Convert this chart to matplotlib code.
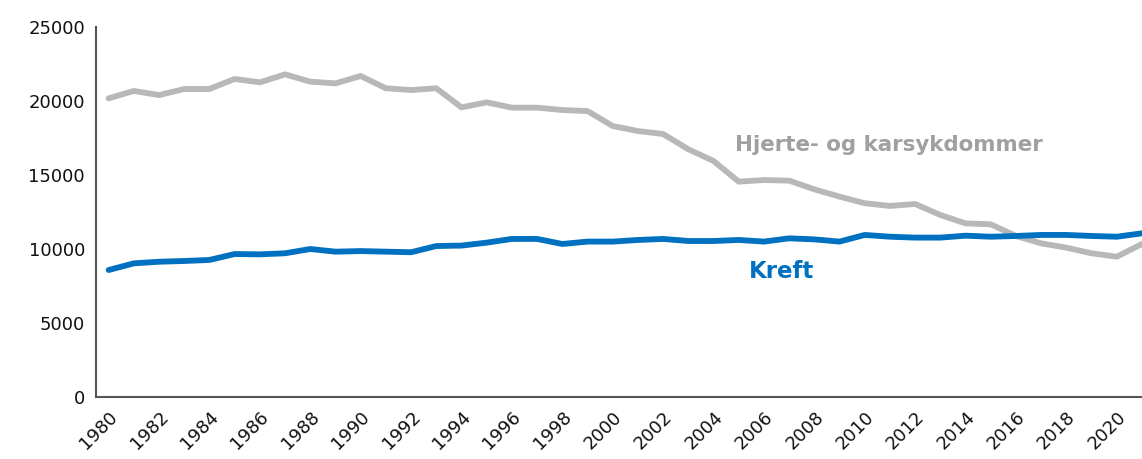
import matplotlib.pyplot as plt

years = list(range(1980, 2022))
hjerte = [20180, 20680, 20400, 20810, 20810, 21490, 21260, 21800, 21310, 21190,
          21690, 20860, 20740, 20860, 19570, 19910, 19550, 19550, 19390, 19320,
          18310, 17970, 17770, 16740, 15950, 14550, 14660, 14620, 14030, 13540,
          13090, 12910, 13040, 12300, 11730, 11670, 10880, 10380, 10090, 9710,
          9480, 10340]
kreft = [8580, 9030, 9140, 9190, 9260, 9660, 9640, 9710, 10000, 9820,
         9860, 9820, 9780, 10200, 10230, 10430, 10680, 10680, 10340, 10500,
         10500, 10610, 10680, 10540, 10540, 10610, 10500, 10720, 10650, 10500,
         10950, 10830, 10770, 10770, 10900, 10830, 10880, 10950, 10950, 10880,
         10830, 11060]

grey = '#b7b8ba'
blue = '#0070c0'

fig = plt.figure(figsize=(11.42, 4.59), dpi=100)
ax = fig.add_axes([96 / 1142, 1 - 397 / 459, 1 - 96 / 1142, (397 - 27) / 459])
ax.plot(years, hjerte, color=grey, lw=4.2, solid_capstyle='round')
ax.plot(years, kreft, color=blue, lw=4.2, solid_capstyle='round')

ax.set_xlim(1979.5, 2021)
ax.set_ylim(0, 25000)
ax.set_yticks(range(0, 25001, 5000))
ax.set_xticks(range(1980, 2021, 2))
ax.tick_params(length=0, labelsize=13, colors='#111111', pad=8)
plt.setp(ax.get_xticklabels(), rotation=45, ha='right', rotation_mode='anchor')
for s in ['top', 'right']:
    ax.spines[s].set_visible(False)
for s in ['left', 'bottom']:
    ax.spines[s].set_color('#555555')
    ax.spines[s].set_linewidth(1.5)

ax.text(2004.85, 17030, 'Hjerte- og karsykdommer', color='#a0a0a0', fontsize=15.4,
        fontweight='bold', va='center', ha='left')
ax.text(2005.4, 8450, 'Kreft', color=blue, fontsize=16.5,
        fontweight='bold', va='center', ha='left')

fig.savefig('out.png', dpi=100)
